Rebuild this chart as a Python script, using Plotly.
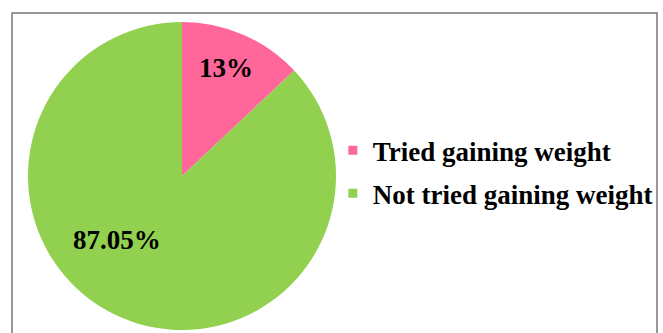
import plotly.graph_objects as go

# Survey response shares (percent)
labels = ["Tried gaining weight", "Not tried gaining weight"]
values = [13, 87.05]
colors = ["#FF6699", "#92D050"]

SERIF = "Liberation Serif, Times New Roman, serif"

fig = go.Figure()

fig.add_trace(go.Pie(
    labels=labels,
    values=values,
    sort=False,
    direction="clockwise",
    rotation=0,
    marker=dict(colors=colors, line=dict(width=0)),
    textinfo="none",
    hoverinfo="label+value",
    showlegend=False,
    domain=dict(x=[27 / 663, 337 / 663], y=[3 / 333, 311 / 333]),
))

# Legend entries with square swatches, one group each so they can be spaced apart
for i, (lab, col) in enumerate(zip(labels, colors)):
    fig.add_trace(go.Scatter(
        x=[None], y=[None], mode="markers", name=lab,
        legendgroup=f"g{i}",
        marker=dict(symbol="square", size=9, color=col),
    ))

# Value labels placed on the slices
label_pos = [(0.341, 0.797), (0.1765, 0.279)]
annotations = [
    dict(x=px, y=py, xref="paper", yref="paper", showarrow=False,
         xanchor="center", yanchor="middle",
         text=f"{v:g}%", font=dict(family=SERIF, size=27, color="black", weight="bold"))
    for v, (px, py) in zip(values, label_pos)
]

fig.update_layout(
    width=663, height=333,
    margin=dict(l=0, r=0, t=0, b=0),
    paper_bgcolor="white", plot_bgcolor="white",
    xaxis=dict(visible=False), yaxis=dict(visible=False),
    annotations=annotations,
    legend=dict(
        x=0.502, y=0.483, xanchor="left", yanchor="middle",
        font=dict(family=SERIF, size=27, color="black", weight="bold"),
        tracegroupgap=5, bgcolor="rgba(0,0,0,0)",
    ),
    shapes=[dict(type="rect", xref="paper", yref="paper",
                 x0=12 / 663, x1=657 / 663, y0=-0.05, y1=(333 - 13) / 333,
                 line=dict(color="#777777", width=1.5))],
)

fig.write_html("out.html")
